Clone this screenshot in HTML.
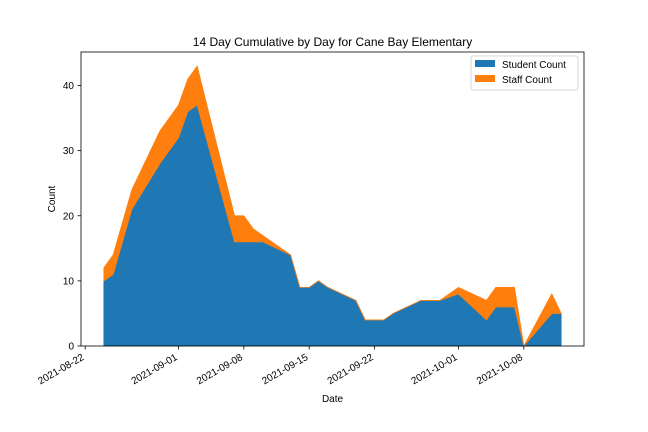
<!DOCTYPE html>
<html><head><meta charset="utf-8"><style>
body{margin:0;background:#fff;}
svg{display:block;font-family:"Liberation Sans","DejaVu Sans",sans-serif;}
</style></head><body>
<svg id="chart" width="648" height="432" viewBox="0 0 648 432" xmlns="http://www.w3.org/2000/svg">
<rect width="648" height="432" fill="#fff"/>
<text x="332.5" y="46" font-size="12" text-anchor="middle">14 Day Cumulative by Day for Cane Bay Elementary</text>
<g id="plot"></g>
<rect x="81" y="52" width="503" height="294" fill="none" stroke="#000" stroke-width="0.8"/>
<g id="axes"></g>
<text x="332.5" y="402" font-size="10" text-anchor="middle">Date</text>
<text transform="translate(55,199) rotate(-90)" font-size="10" text-anchor="middle">Count</text>
<g>
<rect x="471" y="56" width="107" height="34" fill="#fff" stroke="#ccc" stroke-width="0.8" rx="2"/>
<rect x="475" y="60" width="20" height="7" fill="#1f77b4"/>
<text x="502" y="68" font-size="10">Student Count</text>
<rect x="475" y="75" width="20" height="7" fill="#ff7f0e"/>
<text x="502" y="83" font-size="10">Staff Count</text>
</g>
</svg>
<script>
const dates = ["2021-08-24","2021-08-25","2021-08-27","2021-08-30","2021-09-01","2021-09-02","2021-09-03","2021-09-07","2021-09-08","2021-09-09","2021-09-10","2021-09-13","2021-09-14","2021-09-15","2021-09-16","2021-09-17","2021-09-20","2021-09-21","2021-09-23","2021-09-24","2021-09-27","2021-09-29","2021-10-01","2021-10-04","2021-10-05","2021-10-06","2021-10-07","2021-10-08","2021-10-11","2021-10-12"];
const studentCount = [10,11,21,28,32,36,37,16,16,16,16,14,9,9,10,9,7,4,4,5,7,7,8,4,6,6,6,0,5,5];
const staffCount = [2,3,3,5,5,5,6,4,4,2,1,0,0,0,0,0,0,0,0,0,0,0,1,3,3,3,3,0,3,0];
const xTickLabels = ["2021-08-22","2021-09-01","2021-09-08","2021-09-15","2021-09-22","2021-10-01","2021-10-08"];
const yTicks = [0,10,20,30,40];

const NS="http://www.w3.org/2000/svg";
const t0=Date.parse(dates[0]), t1=Date.parse(dates[dates.length-1]);
const span=(t1-t0), pad=span*0.05;
function xs(d){const t=Date.parse(d);return 81+(t-(t0-pad))/(span+2*pad)*503;}
const ymax=(function(){let m=0;for(let i=0;i<studentCount.length;i++)m=Math.max(m,studentCount[i]+staffCount[i]);return m*1.05;})();
function ys(v){return 346-v/ymax*294;}

const plot=document.getElementById('plot');
function area(lower,upper,color,name){
  let p="";
  for(let i=0;i<dates.length;i++)p+=(i?"L":"M")+xs(dates[i]).toFixed(2)+","+ys(upper[i]).toFixed(2);
  for(let i=dates.length-1;i>=0;i--)p+="L"+xs(dates[i]).toFixed(2)+","+ys(lower[i]).toFixed(2);
  p+="Z";
  const el=document.createElementNS(NS,'path');
  el.setAttribute('d',p);el.setAttribute('fill',color);el.setAttribute('stroke',color);el.setAttribute('stroke-width','0.8');
  
  
  plot.appendChild(el);
}
const zeros=studentCount.map(()=>0);
const totals=studentCount.map((v,i)=>v+staffCount[i]);
area(zeros,studentCount,'#1f77b4','student-count-area');
area(studentCount,totals,'#ff7f0e','staff-count-area');

const axes=document.getElementById('axes');
yTicks.forEach(v=>{
  const y=ys(v);
  const l=document.createElementNS(NS,'line');
  l.setAttribute('x1',77.5);l.setAttribute('x2',81);l.setAttribute('y1',y);l.setAttribute('y2',y);l.setAttribute('stroke','#000');l.setAttribute('stroke-width','0.8');
  
  
  axes.appendChild(l);
  const t=document.createElementNS(NS,'text');
  t.setAttribute('x',74);t.setAttribute('y',y+3.5);t.setAttribute('font-size','10');t.setAttribute('text-anchor','end');
  t.textContent=v;
  
  
  axes.appendChild(t);
});
xTickLabels.forEach(d=>{
  const x=xs(d);
  const l=document.createElementNS(NS,'line');
  l.setAttribute('x1',x);l.setAttribute('x2',x);l.setAttribute('y1',346);l.setAttribute('y2',349.5);l.setAttribute('stroke','#000');l.setAttribute('stroke-width','0.8');
  
  
  axes.appendChild(l);
  const t=document.createElementNS(NS,'text');
  t.setAttribute('transform','translate('+(x-4)+',353) rotate(-30)');
  t.setAttribute('font-size','10');t.setAttribute('text-anchor','end');t.setAttribute('dy','0.7em');
  t.textContent=d;
  
  
  axes.appendChild(t);
});
</script>
</body></html>
